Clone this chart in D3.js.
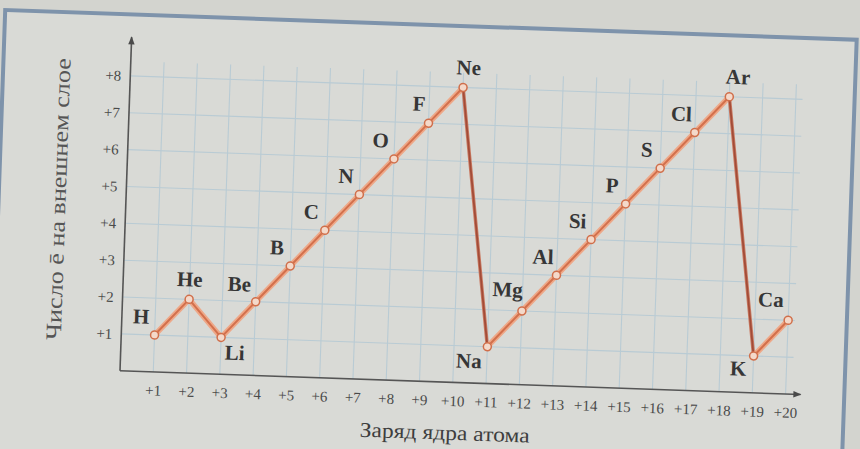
<!DOCTYPE html>
<html>
<head>
<meta charset="utf-8">
<script src="https://cdn.jsdelivr.net/npm/d3@7"></script>
<style>
  html, body { margin: 0; padding: 0; background: #d3d4cf; }
  svg { display: block; }
  text { font-family: "Liberation Serif", "Times New Roman", serif; }
</style>
</head>
<body>
<svg id="chart" width="860" height="449"></svg>
<script>
// ---- data ----
const elements = ["H","He","Li","Be","B","C","N","O","F","Ne","Na","Mg","Al","Si","P","S","Cl","Ar","K","Ca"];
const charges = [1,2,3,4,5,6,7,8,9,10,11,12,13,14,15,16,17,18,19,20];
const outerElectrons = [1,2,1,2,3,4,5,6,7,8,1,2,3,4,5,6,7,8,1,2];
const xTickLabels = ["+1","+2","+3","+4","+5","+6","+7","+8","+9","+10","+11","+12","+13","+14","+15","+16","+17","+18","+19","+20"];
const yTickValues = [1,2,3,4,5,6,7,8];
const yTickLabels = ["+1","+2","+3","+4","+5","+6","+7","+8"];
const xTitle = "Заряд ядра атома";
const yTitle = "Число ē на внешнем слое";

// ---- label placement (style) ----
const labelOffset = {
  default: [-14, -11],
  He: [0, -13], Li: [14, 22], Be: [-17, -10], F: [-10, -12],
  Ne: [5, -13], Ar: [8, -13], Na: [-18, 22], K: [-15, 20], Ca: [-18, -13], Mg: [-15, -14]
};

const svg = d3.select("#chart");

// photo tilt
const g = svg.append("g").attr("transform", "rotate(2,430,224)");

// frame
g.append("rect").attr("x", -2).attr("y", 25).attr("width", 852).attr("height", 480)
  .attr("fill", "#d9dad6").attr("stroke", "#7e93ab").attr("stroke-width", 4);

const x = d3.scaleLinear().domain([0, 20]).range([125.3, 791.3]);
const y = d3.scaleLinear().domain([0, 8]).range([381.5, 86.4]);

// grid
const grid = g.append("g");
grid.selectAll("line.v").data(charges).join("line")
  .attr("x1", d => x(d)).attr("x2", d => x(d))
  .attr("y1", y(0)).attr("y2", y(8.4))
  .attr("stroke", "#b9cbd4").attr("stroke-width", 1.1);
grid.selectAll("line.h").data(yTickValues).join("line")
  .attr("x1", x(0)).attr("x2", x(20.2))
  .attr("y1", d => y(d)).attr("y2", d => y(d))
  .attr("stroke", "#b9cbd4").attr("stroke-width", 1.1);

// arrows
const defs = svg.append("defs");
defs.append("marker").attr("id", "arr").attr("viewBox", "0 0 10 10")
  .attr("refX", 9).attr("refY", 5).attr("markerWidth", 7).attr("markerHeight", 5)
  .attr("orient", "auto")
  .append("path").attr("d", "M0,1 L10,5 L0,9 Z").attr("fill", "#4a4a4a");

// axes lines
g.append("line").attr("x1", x(0)).attr("x2", x(20.45)).attr("y1", y(0)).attr("y2", y(0))
  .attr("stroke", "#555").attr("stroke-width", 1.6).attr("marker-end", "url(#arr)");
g.append("line").attr("x1", x(0)).attr("x2", x(0)).attr("y1", y(0)).attr("y2", y(9.05))
  .attr("stroke", "#555").attr("stroke-width", 1.6).attr("marker-end", "url(#arr)");

// tick labels via d3 axes
const xAxis = d3.axisBottom(x).tickValues(charges)
  .tickFormat((d, i) => xTickLabels[i]).tickSize(0).tickPadding(13);
const xg = g.append("g").attr("transform", `translate(0,${y(0)})`).call(xAxis);
xg.select(".domain").remove();
xg.selectAll("text").attr("font-family", "'Liberation Serif', serif").attr("font-size", 15)
  .attr("fill", "#4a4a4a");

const yAxis = d3.axisLeft(y).tickValues(yTickValues)
  .tickFormat((d, i) => yTickLabels[i]).tickSize(0).tickPadding(9);
const yg = g.append("g").attr("transform", `translate(${x(0)},0)`).call(yAxis);
yg.select(".domain").remove();
yg.selectAll("text").attr("font-family", "'Liberation Serif', serif").attr("font-size", 15)
  .attr("fill", "#4a4a4a");

// titles
g.append("text").attr("x", 452).attr("y", 439).attr("text-anchor", "middle")
  .attr("font-family", "'Liberation Serif', serif").attr("font-size", 21).attr("fill", "#3e3e3e")
  .attr("textLength", 170).attr("lengthAdjust", "spacingAndGlyphs").text(xTitle);
g.append("text").attr("transform", "translate(65,212) rotate(-90)").attr("text-anchor", "middle")
  .attr("font-family", "'Liberation Serif', serif").attr("font-size", 22).attr("fill", "#555")
  .attr("textLength", 282).attr("lengthAdjust", "spacingAndGlyphs").text(yTitle);

// line segments
const pts = charges.map((c, i) => ({ c, v: outerElectrons[i], el: elements[i] }));
const segs = d3.pairs(pts);
const isDrop = d => d[1].v < d[0].v - 1;
const segG = g.append("g");
segG.selectAll("line.outer").data(segs).join("line")
  .attr("x1", d => x(d[0].c)).attr("y1", d => y(d[0].v))
  .attr("x2", d => x(d[1].c)).attr("y2", d => y(d[1].v))
  .attr("stroke", d => isDrop(d) ? "#c97a62" : "#eea888")
  .attr("stroke-width", d => isDrop(d) ? 3.5 : 5.5)
  .attr("stroke-linecap", "round");
segG.selectAll("line.inner").data(segs).join("line")
  .attr("x1", d => x(d[0].c)).attr("y1", d => y(d[0].v))
  .attr("x2", d => x(d[1].c)).attr("y2", d => y(d[1].v))
  .attr("stroke", d => isDrop(d) ? "#a34c38" : "#d3704c")
  .attr("stroke-width", d => isDrop(d) ? 1.8 : 2)
  .attr("stroke-linecap", "round");

// markers
g.selectAll("circle.pt").data(pts).join("circle")
  .attr("cx", d => x(d.c)).attr("cy", d => y(d.v)).attr("r", 4)
  .attr("fill", "#f4d9ca").attr("stroke", "#d06f4b").attr("stroke-width", 1.5);

// element labels
g.selectAll("text.el").data(pts).join("text")
  .attr("x", d => x(d.c) + (labelOffset[d.el] || labelOffset.default)[0])
  .attr("y", d => y(d.v) + (labelOffset[d.el] || labelOffset.default)[1])
  .attr("text-anchor", "middle")
  .attr("font-family", "'Liberation Serif', serif").attr("font-size", 21).attr("font-weight", "bold")
  .attr("fill", "#363636").text(d => d.el);
</script>
</body>
</html>
